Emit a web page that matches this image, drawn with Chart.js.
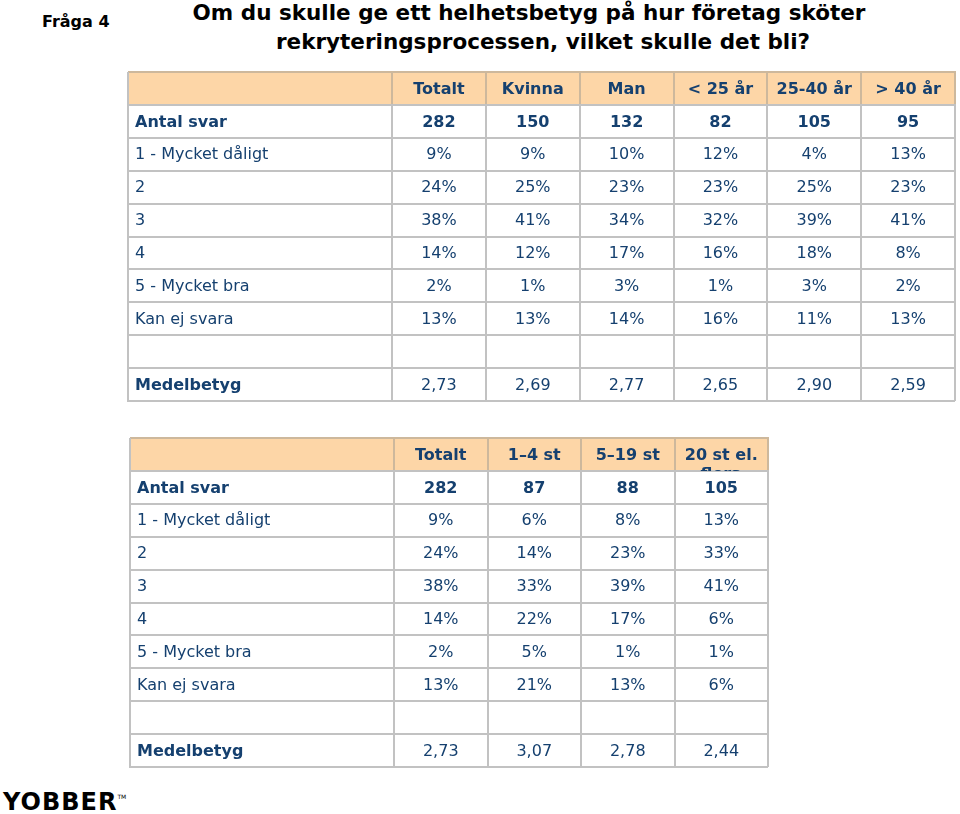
<!DOCTYPE html>
<html lang="sv">
<head>
<meta charset="utf-8">
<title>Fråga 4</title>
<script src="https://cdn.jsdelivr.net/npm/chart.js@4.4.1/dist/chart.umd.min.js"></script>
<style>
  body { margin: 0; background: #fff; font-family: "DejaVu Sans", Verdana, sans-serif; }
  #sida { position: relative; width: 960px; height: 814px; overflow: hidden; }
  .abs { position: absolute; white-space: nowrap; color: #000; }
  #fraga { left: 42px; top: 12px; font-size: 16px; line-height: 20px; font-weight: bold; }
  .rubrik { width: 800px; text-align: center; font-size: 21.5px; line-height: 26px; font-weight: bold; }
  #rad1 { left: 129px; top: 0px; }
  #rad2 { left: 143px; top: 29px; }
  #logo { left: 3px; top: 790px; font-size: 24px; line-height: 24px; font-weight: 900; letter-spacing: 1px; }
  #logo span { position: relative; top: -11px; font-size: 6px; font-weight: normal; letter-spacing: 0; }
  canvas { position: absolute; left: 0; }
  #tabell1 { top: 60px; }
  #tabell2 { top: 426px; }
</style>
</head>
<body>
<div id="sida">
  <div class="abs" id="fraga">Fråga 4</div>
  <div class="abs rubrik" id="rad1">Om du skulle ge ett helhetsbetyg på hur företag sköter</div>
  <div class="abs rubrik" id="rad2">rekryteringsprocessen, vilket skulle det bli?</div>
  <canvas id="tabell1" width="960" height="345"></canvas>
  <canvas id="tabell2" width="960" height="345"></canvas>
  <div class="abs" id="logo">YOBBER<span>TM</span></div>
</div>
<script>
// Radetiketter (gemensamma för båda tabellerna)
const rader = ['Antal svar', '1 - Mycket dåligt', '2', '3', '4', '5 - Mycket bra', 'Kan ej svara', '', 'Medelbetyg'];

// Tabell 1: kön och ålder
const kolumner1 = ['Totalt', 'Kvinna', 'Man', '< 25 år', '25-40 år', '> 40 år'];
const antalSvar1 = [282, 150, 132, 82, 105, 95];
const mycketDaligt1 = [9, 9, 10, 12, 4, 13];
const betyg2_1 = [24, 25, 23, 23, 25, 23];
const betyg3_1 = [38, 41, 34, 32, 39, 41];
const betyg4_1 = [14, 12, 17, 16, 18, 8];
const mycketBra1 = [2, 1, 3, 1, 3, 2];
const kanEjSvara1 = [13, 13, 14, 16, 11, 13];
const medelbetyg1 = [2.73, 2.69, 2.77, 2.65, 2.90, 2.59];

// Tabell 2: företagsstorlek
const kolumner2 = ['Totalt', '1–4 st', '5–19 st', ['20 st el.', 'flera']];
const antalSvar2 = [282, 87, 88, 105];
const mycketDaligt2 = [9, 6, 8, 13];
const betyg2_2 = [24, 14, 23, 33];
const betyg3_2 = [38, 33, 39, 41];
const betyg4_2 = [14, 22, 17, 6];
const mycketBra2 = [2, 5, 1, 1];
const kanEjSvara2 = [13, 21, 13, 6];
const medelbetyg2 = [2.73, 3.07, 2.78, 2.44];

const marin = '#15406f';
const persika = '#fdd6a7';
const linjeFarg = '#c2c2c2';
const huvudLinje = '#cdb89c';
const rubrikHojd = 33;
const etikettBredd = 264;
const fetStorlek = 16;
const normalStorlek = 16;
const rubrikRadhojd = 1.2;
const rubrikSankning = 1.5;

Chart.defaults.font.family = '"DejaVu Sans", Verdana, sans-serif';

function formatera(typ, v) {
    if (typ === 'antal') return String(v);
    if (typ === 'medel') return v.toFixed(2).replace('.', ',');
    return v + '%';
}

// Ritar rubrikradens bakgrund och tabellens yttre kanter
const ramPlugin = {
    id: 'ram',
    beforeDraw(chart) {
        const { x, y } = chart.scales;
        const ctx = chart.ctx;
        const vanster = y.right - etikettBredd;
        ctx.save();
        ctx.fillStyle = persika;
        ctx.fillRect(vanster, x.top, x.right - vanster, x.bottom - x.top);
        ctx.restore();
    },
    afterDraw(chart) {
        const { x, y } = chart.scales;
        const ctx = chart.ctx;
        const vanster = Math.round(y.right - etikettBredd);
        ctx.save();
        ctx.lineWidth = 2;
        ctx.strokeStyle = huvudLinje;
        ctx.beginPath();
        ctx.moveTo(vanster, Math.round(x.top));
        ctx.lineTo(Math.round(x.right) + 1, Math.round(x.top));
        ctx.stroke();
        ctx.strokeStyle = linjeFarg;
        ctx.beginPath();
        ctx.moveTo(vanster, Math.round(x.top));
        ctx.lineTo(vanster, Math.round(y.bottom) + 1);
        ctx.stroke();
        ctx.restore();
    }
};

// Skriver cellvärdena vid punkternas positioner
const cellPlugin = {
    id: 'celler',
    afterDatasetsDraw(chart) {
        const ctx = chart.ctx;
        ctx.save();
        ctx.textAlign = 'center';
        ctx.textBaseline = 'middle';
        ctx.fillStyle = marin;
        chart.data.datasets.forEach((ds, di) => {
            const meta = chart.getDatasetMeta(di);
            ctx.font = ds.typ === 'antal'
                ? 'bold ' + fetStorlek + 'px "DejaVu Sans"'
                : normalStorlek + 'px "DejaVu Sans"';
            meta.data.forEach((pt, i) => {
                ctx.fillText(formatera(ds.typ, ds.data[i].v), pt.x, pt.y + 1);
            });
        });
        ctx.restore();
    }
};

function byggTabell(id, kolumner, serier, padding) {
    const rubrikRader = Math.max(...kolumner.map(k => Array.isArray(k) ? k.length : 1));
    const lh = fetStorlek * rubrikRadhojd;
    const tickOchPadding = rubrikHojd / 2 - rubrikRader * lh + lh / 2 - rubrikSankning;

    const datasets = serier.map(s => ({
        label: s.rad,
        typ: s.typ,
        data: s.varden.map((v, i) => ({ x: kolumner[i], y: s.rad, v: v })),
        pointRadius: 0,
        pointHoverRadius: 0,
        showLine: false
    }));

    return new Chart(document.getElementById(id), {
        type: 'scatter',
        data: { xLabels: kolumner, yLabels: rader, datasets: datasets },
        options: {
            responsive: false,
            animation: false,
            events: [],
            layout: { padding: padding },
            plugins: { legend: { display: false }, tooltip: { enabled: false } },
            scales: {
                x: {
                    type: 'category',
                    position: 'top',
                    offset: true,
                    grid: {
                        offset: true,
                        color: linjeFarg,
                        lineWidth: 2,
                        drawTicks: true,
                        tickLength: rubrikHojd,
                        tickColor: huvudLinje,
                        tickWidth: 2
                    },
                    border: { display: true, color: linjeFarg, width: 2 },
                    ticks: {
                        autoSkip: false,
                        maxRotation: 0,
                        minRotation: 0,
                        crossAlign: 'far',
                        padding: tickOchPadding - rubrikHojd,
                        color: marin,
                        font: { size: fetStorlek, weight: 'bold', lineHeight: rubrikRadhojd }
                    },
                    afterFit(scale) { scale.height = rubrikHojd; }
                },
                y: {
                    type: 'category',
                    offset: true,
                    grid: {
                        offset: true,
                        color: linjeFarg,
                        lineWidth: 2,
                        drawTicks: true,
                        tickLength: etikettBredd
                    },
                    border: { display: true, color: linjeFarg, width: 2 },
                    ticks: {
                        autoSkip: false,
                        crossAlign: 'far',
                        padding: -20,
                        labelOffset: 1,
                        color: marin,
                        font: ctx => {
                            const fet = ctx.index === 0 || ctx.index === rader.length - 1;
                            return fet ? { size: fetStorlek, weight: 'bold' } : { size: normalStorlek, weight: 'normal' };
                        }
                    },
                    afterFit(scale) { scale.width = etikettBredd - 7; }
                }
            }
        },
        plugins: [ramPlugin, cellPlugin]
    });
}

byggTabell('tabell1', kolumner1, [
    { rad: 'Antal svar', typ: 'antal', varden: antalSvar1 },
    { rad: '1 - Mycket dåligt', typ: 'procent', varden: mycketDaligt1 },
    { rad: '2', typ: 'procent', varden: betyg2_1 },
    { rad: '3', typ: 'procent', varden: betyg3_1 },
    { rad: '4', typ: 'procent', varden: betyg4_1 },
    { rad: '5 - Mycket bra', typ: 'procent', varden: mycketBra1 },
    { rad: 'Kan ej svara', typ: 'procent', varden: kanEjSvara1 },
    { rad: 'Medelbetyg', typ: 'medel', varden: medelbetyg1 }
], { top: 12, left: 135, right: 5, bottom: 4 });

byggTabell('tabell2', kolumner2, [
    { rad: 'Antal svar', typ: 'antal', varden: antalSvar2 },
    { rad: '1 - Mycket dåligt', typ: 'procent', varden: mycketDaligt2 },
    { rad: '2', typ: 'procent', varden: betyg2_2 },
    { rad: '3', typ: 'procent', varden: betyg3_2 },
    { rad: '4', typ: 'procent', varden: betyg4_2 },
    { rad: '5 - Mycket bra', typ: 'procent', varden: mycketBra2 },
    { rad: 'Kan ej svara', typ: 'procent', varden: kanEjSvara2 },
    { rad: 'Medelbetyg', typ: 'medel', varden: medelbetyg2 }
], { top: 12, left: 137, right: 192, bottom: 4 });
</script>
</body>
</html>
